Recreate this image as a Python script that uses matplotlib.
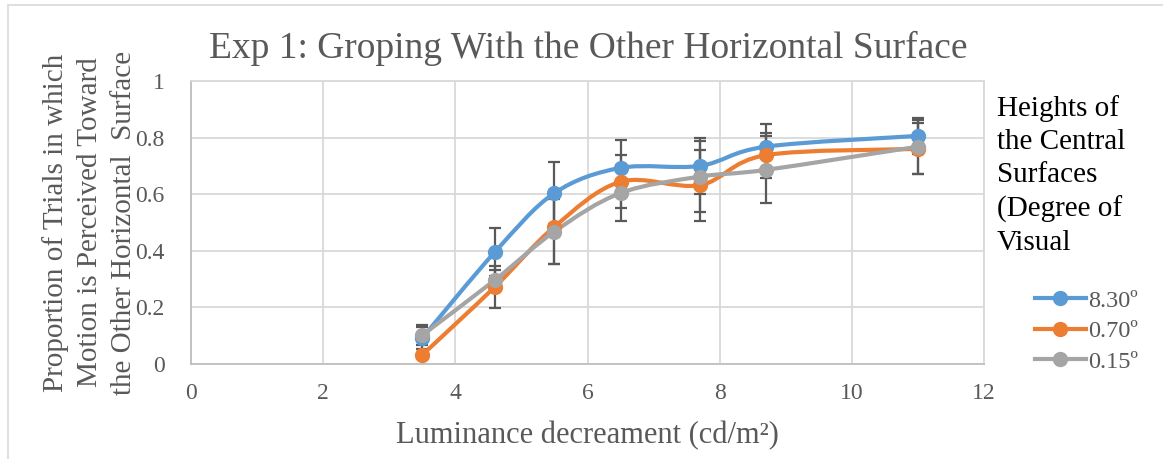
import numpy as np
import matplotlib
matplotlib.use('Agg')
from matplotlib import pyplot as plt
from matplotlib.path import Path
from matplotlib.patches import PathPatch, Rectangle
from matplotlib.lines import Line2D

plt.rcParams['font.family'] = ['Liberation Serif', 'DejaVu Serif']

luminance = [3.5, 4.6, 5.5, 6.5, 7.7, 8.7, 11]
series_names = ['8.30º', '0.70º', '0.15º']
prop_830 = [0.092, 0.396, 0.604, 0.693, 0.700, 0.768, 0.806]
prop_070 = [0.032, 0.273, 0.485, 0.644, 0.632, 0.738, 0.760]
prop_015 = [0.102, 0.297, 0.468, 0.604, 0.662, 0.686, 0.768]
err_830 = [0.040, 0.085, 0.110, 0.097, 0.100, 0.080, 0.065]
err_070 = [0.000, 0.075, 0.130, 0.094, 0.125, 0.080, 0.090]
err_015 = [0.035, 0.035, 0.115, 0.100, 0.125, 0.118, 0.095]

colors = ['#5B9BD5', '#ED7D31', '#A5A5A5']
GRAY_TXT = '#595959'


def smooth_path(x, y):
    # excel-like smoothed line: bezier segments with catmull-rom tangents
    pts = np.column_stack([x, y]).astype(float)
    n = len(pts)
    verts = [pts[0]]
    codes = [Path.MOVETO]
    for i in range(n - 1):
        p0 = pts[i - 1] if i > 0 else pts[i]
        p1 = pts[i]
        p2 = pts[i + 1]
        p3 = pts[i + 2] if i + 2 < n else pts[i + 1]
        c1 = p1 + (p2 - p0) / 6.0
        c2 = p2 - (p3 - p1) / 6.0
        verts += [c1, c2, p2]
        codes += [Path.CURVE4] * 3
    return Path(verts, codes)


fig = plt.figure(figsize=(11.63, 4.59), dpi=100)
fig.patches.append(Rectangle((8 / 1163, -0.1), 1.2, (454 - (-46)) / 459,
                             transform=fig.transFigure, fill=False,
                             edgecolor='#D9D9D9', linewidth=1.2))
ax = fig.add_axes([191 / 1163, 1 - 364 / 459, (984 - 191) / 1163, (364 - 81) / 459])

for vals, errs, col in zip([prop_830, prop_070, prop_015],
                           [err_830, err_070, err_015], colors):
    ax.errorbar(luminance, vals, yerr=errs, fmt='none', ecolor='#595959',
                elinewidth=1.6, capsize=4.5, capthick=1.6, zorder=2)

for vals, col in zip([prop_830, prop_070, prop_015], colors):
    ax.add_patch(PathPatch(smooth_path(luminance, vals), facecolor='none',
                           edgecolor=col, linewidth=3.0, zorder=3,
                           capstyle='round', joinstyle='round'))
    ax.plot(luminance, vals, linestyle='none', marker='o', markersize=10,
            color=col, zorder=4)

ax.set_xlim(0, 12)
ax.set_ylim(0, 1)
ax.set_xticks(np.arange(0, 13, 2))
ax.set_yticks([0, 0.2, 0.4, 0.6, 0.8, 1.0])
ax.set_yticklabels(['0', '0.2', '0.4', '0.6', '0.8', '1'])
ax.grid(True, color='#D9D9D9', linewidth=1.3)
ax.set_axisbelow(True)
for s in ['top', 'right']:
    ax.spines[s].set_color('#D9D9D9')
    ax.spines[s].set_linewidth(1.3)
for s in ['left', 'bottom']:
    ax.spines[s].set_color('#BFBFBF')
    ax.spines[s].set_linewidth(1.3)
ax.tick_params(length=0, labelsize=17, labelcolor=GRAY_TXT)
ax.tick_params(axis='y', pad=19)
ax.tick_params(axis='x', pad=14)

ax.set_xlabel('Luminance decreament (cd/m²)', fontsize=22,
              color=GRAY_TXT, labelpad=12)
ax.set_ylabel('Proportion of Trials in which\nMotion is Perceived Toward\n'
              'the Other Horizontal  Surface', fontsize=21, color=GRAY_TXT,
              labelpad=-1, linespacing=1.4)
fig.text(588 / 1163, 1 - 48 / 459, 'Exp 1: Groping With the Other Horizontal Surface',
         ha='center', va='center', fontsize=27, color=GRAY_TXT)

fig.text(997 / 1163, 1 - 95 / 459,
         'Heights of\nthe Central\nSurfaces\n(Degree of\nVisual',
         ha='left', va='top', fontsize=21, color='black', linespacing=1.35)

handles = [Line2D([], [], color=c, linewidth=3.0, marker='o', markersize=10)
           for c in colors]
leg = fig.legend(handles, series_names, loc='upper left',
                 bbox_to_anchor=(1025 / 1163, 1 - 280 / 459), frameon=False,
                 fontsize=17.5, handlelength=2.1, handletextpad=0.1,
                 labelspacing=0.35, borderaxespad=0)
for t in leg.get_texts():
    t.set_color(GRAY_TXT)

fig.savefig('out.png', dpi=100)
